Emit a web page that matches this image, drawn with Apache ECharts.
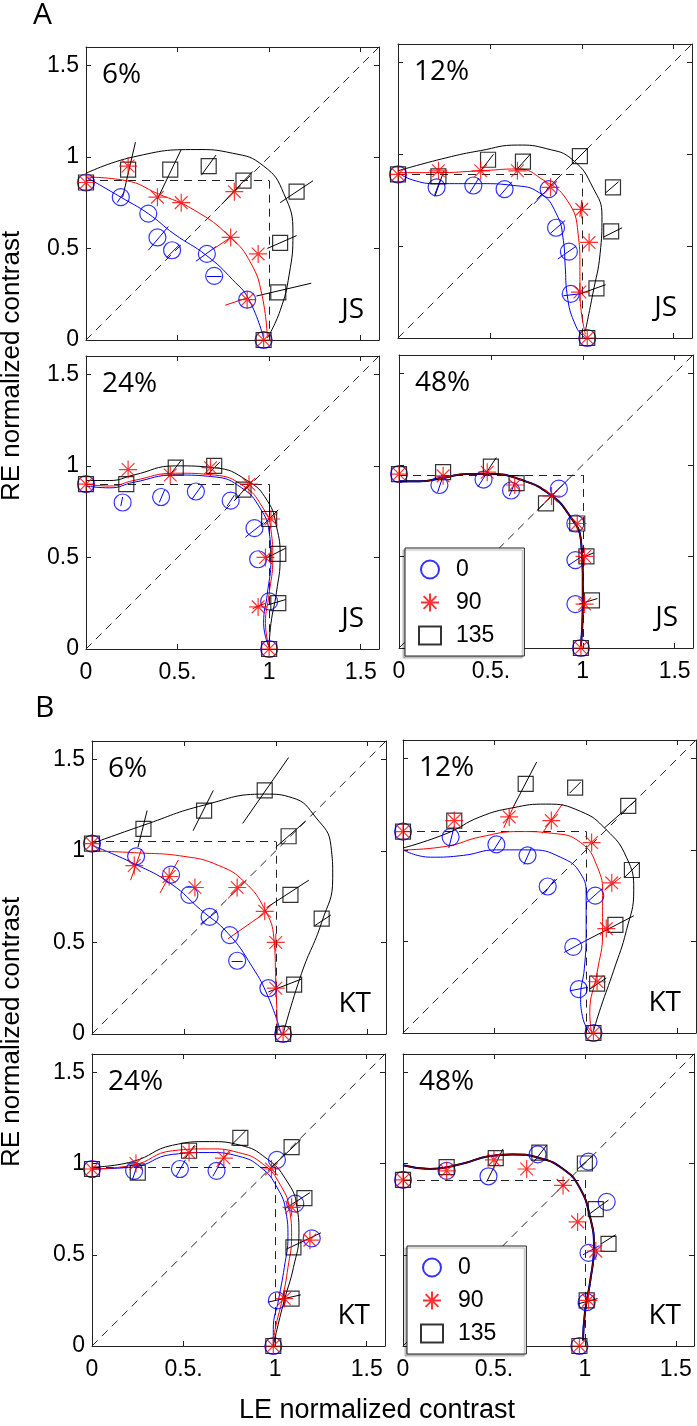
<!DOCTYPE html>
<html><head><meta charset="utf-8">
<script src="https://cdn.jsdelivr.net/npm/echarts@6/dist/echarts.min.js"></script>
<style>html,body{margin:0;padding:0;background:#fff}#c{width:697px;height:1426px}</style>
</head><body><div id="c"></div>
<script>
// ---------- tick labels ----------
const TICK_VALUES = [0, 0.5, 1, 1.5];
const X_TICK_LABELS = ['0', '0.5.', '1', '1.5'];
const Y_TICK_LABELS = ['0', '0.5', '1', '1.5'];
const PCT_LABELS = ['6%', '12%', '24%', '48%'];
const LEGEND_NAMES = ['0', '90', '135'];

// ---------- Panel A, JS, 6% ----------
const A6_circles = [[0,0.86],[0.19,0.78],[0.34,0.69],[0.39,0.56],[0.47,0.49],[0.66,0.47],[0.70,0.35],[0.88,0.22],[0.97,0.0]];
const A6_stars   = [[0,0.86],[0.23,0.95],[0.39,0.78],[0.52,0.75],[0.81,0.81],[0.79,0.56],[0.94,0.47],[0.88,0.22],[0.97,0.0]];
const A6_squares = [[0,0.86],[0.23,0.93],[0.46,0.93],[0.67,0.95],[0.86,0.87],[1.15,0.81],[1.06,0.53],[1.05,0.26],[0.97,0.0]];
const A6_fitBlue  = [[0,0.89],[0.19,0.78],[0.34,0.69],[0.48,0.58],[0.66,0.46],[0.80,0.33],[0.89,0.22],[0.97,0.01]];
const A6_fitRed   = [[0,0.89],[0.22,0.87],[0.39,0.80],[0.59,0.71],[0.79,0.56],[0.90,0.42],[0.96,0.25],[0.99,0.02]];
const A6_fitBlack = [[0,0.91],[0.26,1.00],[0.60,1.04],[0.80,1.02],[0.97,0.95],[1.08,0.80],[1.13,0.58],[1.11,0.36],[1.06,0.16],[0.99,0.01]];
const A6_segBlack = [[0.20,0.78,0.27,1.08],[0.39,0.77,0.52,1.04],[0.63,0.90,0.71,1.01],[0.74,0.74,0.91,0.92],[1.06,0.75,1.24,0.87],[0.99,0.50,1.15,0.57],[0.93,0.24,1.23,0.31]];
const A6_segBlue  = [[0.34,0.49,0.45,0.62],[0.44,0.45,0.51,0.52],[0.60,0.43,0.71,0.51],[0.66,0.35,0.74,0.35],[0.17,0.75,0.21,0.81]];
const A6_segRed   = [[0.76,0.19,0.88,0.23],[0.70,0.50,0.79,0.56]];
const A6_criterion = [0.87, 1.0];

// ---------- Panel A, JS, 12% ----------
const A12_circles = [[0,0.89],[0.21,0.82],[0.41,0.83],[0.58,0.81],[0.82,0.81],[0.86,0.60],[0.93,0.47],[0.94,0.24],[1.03,0.0]];
const A12_stars   = [[0,0.89],[0.22,0.91],[0.45,0.91],[0.65,0.91],[0.83,0.82],[1.00,0.70],[1.04,0.52],[0.99,0.25],[1.03,0.0]];
const A12_squares = [[0,0.89],[0.22,0.88],[0.49,0.97],[0.68,0.96],[0.99,0.99],[1.17,0.82],[1.16,0.58],[1.08,0.27],[1.03,0.0]];
const A12_fitBlue  = [[0,0.90],[0.08,0.86],[0.21,0.84],[0.45,0.84],[0.63,0.83],[0.77,0.79],[0.86,0.68],[0.90,0.53],[0.91,0.39],[0.92,0.24],[0.97,0.06],[1.02,0.0]];
const A12_fitRed   = [[0,0.90],[0.21,0.90],[0.45,0.91],[0.65,0.92],[0.79,0.86],[0.92,0.75],[0.98,0.57],[0.99,0.39],[0.99,0.25],[1.02,0.02]];
const A12_fitBlack = [[0,0.91],[0.26,0.98],[0.45,1.02],[0.65,1.05],[0.81,1.03],[0.95,0.97],[1.06,0.82],[1.11,0.66],[1.10,0.46],[1.06,0.24],[1.02,0.04]];
const A12_segBlack = [[0.20,0.77,0.25,0.91],[0.45,0.91,0.52,1.0],[0.64,0.91,0.72,1.0],[0.94,0.94,1.03,1.03],[1.13,0.79,1.20,0.85],[1.12,0.55,1.22,0.60],[0.99,0.24,1.13,0.29]];
const A12_segBlue  = [[0.20,0.78,0.23,0.86],[0.39,0.79,0.44,0.87],[0.55,0.77,0.62,0.85],[0.74,0.73,0.87,0.87],[0.83,0.57,0.91,0.64],[0.87,0.43,0.97,0.50],[0.90,0.23,0.99,0.24]];
const A12_segRed   = [[0.99,0.66,1.0,0.75]];
const A12_criterion = [0.89, 1.0];

// ---------- Panel A, JS, 24% ----------
const A24_circles = [[0,0.90],[0.20,0.80],[0.41,0.83],[0.60,0.86],[0.79,0.81],[0.92,0.66],[0.94,0.49],[1.00,0.26],[1.00,0.0]];
const A24_stars   = [[0,0.90],[0.23,0.98],[0.46,0.95],[0.68,0.99],[0.89,0.90],[1.01,0.71],[0.98,0.50],[0.94,0.23],[1.00,0.0]];
const A24_squares = [[0,0.90],[0.22,0.90],[0.49,0.99],[0.70,1.00],[0.86,0.87],[1.00,0.71],[1.05,0.52],[1.05,0.25],[1.00,0.0]];
const A24_fitBlue  = [[0,0.89],[0.13,0.88],[0.26,0.91],[0.49,0.95],[0.70,0.94],[0.85,0.88],[0.95,0.77],[1.0,0.64],[1.01,0.49],[0.99,0.30],[0.97,0.14],[1.0,0.01]];
const A24_fitRed   = [[0,0.90],[0.13,0.89],[0.26,0.92],[0.49,0.96],[0.70,0.95],[0.86,0.89],[0.96,0.78],[1.01,0.65],[1.02,0.49],[1.0,0.30],[0.98,0.14],[1.0,0.01]];
const A24_fitBlack = [[0,0.92],[0.13,0.92],[0.26,0.95],[0.49,1.0],[0.70,0.99],[0.88,0.92],[0.99,0.81],[1.04,0.67],[1.06,0.50],[1.04,0.31],[1.01,0.14],[1.0,0.01]];
const A24_segBlack = [[0.45,0.94,0.52,1.03],[0.67,0.96,0.73,1.02],[0.81,0.81,0.91,0.92],[0.97,0.68,1.05,0.76],[0.99,0.50,1.09,0.55],[0.99,0.24,1.09,0.27],[1.0,0.73,1.0,0.85]];
const A24_segBlue  = [[0.19,0.78,0.20,0.83],[0.40,0.80,0.43,0.87],[0.58,0.82,0.63,0.89],[0.77,0.78,0.81,0.84],[0.87,0.61,0.97,0.69]];
const A24_segRed   = [[0.91,0.22,0.98,0.25]];
const A24_criterion = [0.90, 1.0];

// ---------- Panel A, JS, 48% ----------
const A48_circles = [[0,0.95],[0.22,0.89],[0.46,0.92],[0.61,0.86],[0.87,0.87],[0.96,0.68],[0.96,0.48],[0.96,0.24],[0.99,0.0]];
const A48_stars   = [[0,0.95],[0.24,0.94],[0.48,0.96],[0.63,0.89],[0.83,0.83],[0.97,0.68],[1.01,0.50],[1.01,0.24],[0.99,0.0]];
const A48_squares = [[0,0.95],[0.24,0.96],[0.50,0.99],[0.64,0.90],[0.80,0.79],[0.97,0.68],[1.02,0.50],[1.05,0.26],[0.99,0.0]];
const A48_fitBlue  = [[0,0.91],[0.11,0.91],[0.24,0.93],[0.37,0.95],[0.50,0.95],[0.66,0.92],[0.82,0.84],[0.93,0.72],[0.99,0.59],[1.0,0.41],[1.0,0.22],[0.99,0.01]];
const A48_fitRed   = [[0,0.91],[0.11,0.91],[0.24,0.93],[0.37,0.95],[0.50,0.95],[0.66,0.92],[0.82,0.84],[0.93,0.72],[0.99,0.59],[1.0,0.41],[1.0,0.22],[0.99,0.01]];
const A48_fitBlack = [[0,0.91],[0.11,0.91],[0.24,0.93],[0.37,0.95],[0.50,0.95],[0.66,0.92],[0.82,0.84],[0.93,0.72],[0.99,0.59],[1.0,0.41],[1.0,0.22],[0.99,0.01]];
const A48_segBlack = [[0.47,0.95,0.53,1.04],[0.75,0.75,0.86,0.86],[0.98,0.24,1.08,0.27],[0.99,0.49,1.06,0.52]];
const A48_segBlue  = [[0.21,0.85,0.24,0.94],[0.43,0.88,0.48,0.96],[0.60,0.83,0.63,0.90],[0.84,0.84,0.92,0.92],[0.92,0.45,1.01,0.51]];
const A48_segRed   = [];
const A48_criterion = [0.945, 1.0];

// ---------- Panel B, KT, 6% ----------
const B6_circles = [[0,1.04],[0.24,0.97],[0.43,0.87],[0.53,0.76],[0.64,0.64],[0.75,0.54],[0.79,0.40],[0.96,0.25],[1.04,0.0]];
const B6_stars   = [[0,1.04],[0.23,0.92],[0.42,0.86],[0.56,0.80],[0.79,0.80],[0.94,0.67],[1.00,0.50],[1.00,0.25],[1.04,0.0]];
const B6_squares = [[0,1.04],[0.28,1.12],[0.61,1.22],[0.94,1.33],[1.07,1.08],[1.08,0.76],[1.25,0.63],[1.10,0.27],[1.04,0.0]];
const B6_fitBlue  = [[0,1.03],[0.23,0.93],[0.43,0.82],[0.59,0.68],[0.74,0.55],[0.87,0.37],[0.96,0.20],[1.03,0.0]];
const B6_fitRed   = [[0,1.0],[0.23,0.99],[0.50,0.97],[0.69,0.92],[0.83,0.83],[0.94,0.68],[0.99,0.52],[1.0,0.30],[1.01,0.0]];
const B6_fitBlack = [[0,1.04],[0.28,1.14],[0.61,1.25],[0.94,1.31],[1.09,1.29],[1.22,1.18],[1.30,1.03],[1.31,0.85],[1.25,0.61],[1.14,0.33],[1.04,0.0]];
const B6_segBlack = [[0.25,1.02,0.30,1.22],[0.55,1.11,0.66,1.33],[0.82,1.15,1.07,1.51],[1.00,1.02,1.16,1.16],[0.95,0.69,1.18,0.84],[1.21,0.59,1.30,0.65],[0.96,0.23,1.14,0.30]];
const B6_segBlue  = [[0.59,0.60,0.68,0.67],[0.76,0.40,0.82,0.40]];
const B6_segRed   = [[0.21,0.84,0.27,1.01],[0.37,0.77,0.47,0.95],[0.74,0.74,0.84,0.84],[0.74,0.52,0.94,0.66]];
const B6_criterion = [1.05, 1.0];

// ---------- Panel B, KT, 12% ----------
const B12_circles = [[0,1.10],[0.26,1.07],[0.51,1.03],[0.68,0.97],[0.79,0.80],[1.05,0.75],[0.93,0.47],[0.96,0.24],[1.04,0.0]];
const B12_stars   = [[0,1.10],[0.28,1.16],[0.58,1.18],[0.81,1.16],[1.03,1.04],[1.14,0.82],[1.11,0.57],[1.06,0.28],[1.04,0.0]];
const B12_squares = [[0,1.10],[0.28,1.16],[0.67,1.36],[0.94,1.34],[1.23,1.24],[1.25,0.89],[1.16,0.59],[1.06,0.27],[1.04,0.0]];
const B12_fitBlue  = [[0,1.0],[0.15,0.96],[0.33,0.97],[0.51,1.0],[0.69,1.0],[0.86,0.96],[0.97,0.87],[1.0,0.75],[1.0,0.55],[0.99,0.35],[0.97,0.20],[0.98,0.09],[1.02,0.0]];
const B12_fitRed   = [[0,1.0],[0.24,1.02],[0.42,1.07],[0.64,1.10],[0.82,1.09],[0.97,1.04],[1.06,0.91],[1.09,0.75],[1.09,0.55],[1.06,0.33],[1.02,0.11],[1.03,0.0]];
const B12_fitBlack = [[0,1.01],[0.24,1.09],[0.42,1.18],[0.60,1.23],[0.78,1.25],[0.97,1.21],[1.11,1.11],[1.22,0.96],[1.26,0.78],[1.22,0.56],[1.15,0.34],[1.08,0.14],[1.04,0.01]];
const B12_segBlack = [[0.60,1.23,0.73,1.48],[0.91,1.31,0.97,1.37],[1.10,1.12,1.27,1.27],[1.21,0.85,1.29,0.93],[0.99,0.50,1.26,0.64],[1.02,0.24,1.11,0.30]];
const B12_segBlue  = [[0.25,1.01,0.28,1.13],[0.49,0.99,0.54,1.07],[0.66,0.92,0.70,1.01],[0.77,0.76,0.83,0.84],[1.00,0.71,1.09,0.79],[0.88,0.44,0.99,0.50],[0.91,0.23,1.01,0.25]];
const B12_segRed   = [[0.76,1.09,0.87,1.25],[1.10,0.78,1.19,0.85],[0.55,1.12,0.61,1.25]];
const B12_criterion = [1.10, 1.0];

// ---------- Panel B, KT, 24% ----------
const B24_circles = [[0,0.97],[0.23,0.96],[0.48,0.97],[0.68,0.96],[1.01,1.02],[1.11,0.78],[1.20,0.59],[1.01,0.25],[0.99,0.0]];
const B24_stars   = [[0,0.97],[0.24,1.0],[0.53,1.06],[0.72,1.03],[0.98,0.97],[1.09,0.76],[1.19,0.58],[1.05,0.26],[0.99,0.0]];
const B24_squares = [[0,0.97],[0.25,0.95],[0.53,1.07],[0.81,1.14],[1.09,1.09],[1.16,0.81],[1.10,0.54],[1.09,0.26],[0.99,0.0]];
const B24_fitBlue  = [[0,0.97],[0.22,0.98],[0.44,1.05],[0.64,1.06],[0.80,1.04],[0.92,0.98],[1.01,0.87],[1.06,0.73],[1.07,0.60],[1.05,0.43],[1.02,0.26],[0.99,0.09],[0.99,0.0]];
const B24_fitRed   = [[0,0.97],[0.22,0.99],[0.44,1.07],[0.64,1.08],[0.80,1.06],[0.93,1.0],[1.03,0.88],[1.08,0.74],[1.09,0.60],[1.07,0.43],[1.04,0.26],[1.0,0.09],[0.99,0.0]];
const B24_fitBlack = [[0,0.98],[0.22,1.01],[0.44,1.10],[0.64,1.12],[0.81,1.10],[0.95,1.03],[1.06,0.91],[1.12,0.76],[1.13,0.62],[1.10,0.43],[1.05,0.25],[1.01,0.09],[0.99,0.0]];
const B24_segBlack = [[0.76,1.10,0.84,1.18],[0.96,0.96,1.14,1.13],[1.05,0.75,1.19,0.84],[1.06,0.53,1.25,0.62],[0.96,0.24,1.14,0.28],[0.51,1.03,0.56,1.10]];
const B24_segBlue  = [[0.46,0.93,0.51,1.02],[0.66,0.93,0.71,1.02],[0.22,0.91,0.25,1.00]];
const B24_segRed   = [[0.68,0.98,0.75,1.07]];
const B24_criterion = [0.98, 1.0];

// ---------- Panel B, KT, 48% ----------
const B48_circles = [[0,0.91],[0.24,0.96],[0.47,0.93],[0.74,1.05],[1.02,1.01],[1.12,0.79],[1.02,0.51],[1.01,0.24],[0.97,0.0]];
const B48_stars   = [[0,0.91],[0.24,0.96],[0.50,1.02],[0.68,0.97],[0.88,0.88],[0.96,0.68],[1.06,0.52],[1.02,0.25],[0.97,0.0]];
const B48_squares = [[0,0.91],[0.24,0.98],[0.51,1.03],[0.75,1.06],[1.0,1.0],[1.06,0.75],[1.13,0.56],[1.01,0.25],[0.97,0.0]];
const B48_fitBlue  = [[0,0.99],[0.15,0.97],[0.33,1.0],[0.47,1.04],[0.60,1.05],[0.75,1.03],[0.88,0.97],[0.97,0.87],[1.03,0.70],[1.05,0.54],[1.03,0.36],[1.0,0.18],[0.99,0.03]];
const B48_fitRed   = [[0,0.99],[0.15,0.97],[0.33,1.0],[0.47,1.04],[0.60,1.05],[0.75,1.03],[0.88,0.97],[0.97,0.87],[1.03,0.70],[1.05,0.54],[1.03,0.36],[1.0,0.18],[0.99,0.03]];
const B48_fitBlack = [[0,0.99],[0.15,0.97],[0.33,1.0],[0.47,1.04],[0.60,1.05],[0.75,1.03],[0.88,0.97],[0.97,0.87],[1.03,0.70],[1.05,0.54],[1.03,0.36],[1.0,0.18],[0.99,0.03]];
const B48_segBlack = [[0.46,0.90,0.55,1.08],[0.72,1.01,0.79,1.10],[0.96,0.97,1.04,1.04],[1.02,0.72,1.13,0.80],[1.09,0.56,1.17,0.61],[0.96,0.23,1.07,0.26]];
const B48_segBlue  = [[0.99,0.50,1.08,0.55]];
const B48_segRed   = [];
const B48_criterion = [0.91, 1.0];

// ---------- assembly ----------
const PANEL_DATA = [
  {c:A6_circles,s:A6_stars,q:A6_squares,fb:A6_fitBlue,fr:A6_fitRed,fk:A6_fitBlack,sk:A6_segBlack,sb:A6_segBlue,sr:A6_segRed,cr:A6_criterion},
  {c:A12_circles,s:A12_stars,q:A12_squares,fb:A12_fitBlue,fr:A12_fitRed,fk:A12_fitBlack,sk:A12_segBlack,sb:A12_segBlue,sr:A12_segRed,cr:A12_criterion},
  {c:A24_circles,s:A24_stars,q:A24_squares,fb:A24_fitBlue,fr:A24_fitRed,fk:A24_fitBlack,sk:A24_segBlack,sb:A24_segBlue,sr:A24_segRed,cr:A24_criterion},
  {c:A48_circles,s:A48_stars,q:A48_squares,fb:A48_fitBlue,fr:A48_fitRed,fk:A48_fitBlack,sk:A48_segBlack,sb:A48_segBlue,sr:A48_segRed,cr:A48_criterion},
  {c:B6_circles,s:B6_stars,q:B6_squares,fb:B6_fitBlue,fr:B6_fitRed,fk:B6_fitBlack,sk:B6_segBlack,sb:B6_segBlue,sr:B6_segRed,cr:B6_criterion},
  {c:B12_circles,s:B12_stars,q:B12_squares,fb:B12_fitBlue,fr:B12_fitRed,fk:B12_fitBlack,sk:B12_segBlack,sb:B12_segBlue,sr:B12_segRed,cr:B12_criterion},
  {c:B24_circles,s:B24_stars,q:B24_squares,fb:B24_fitBlue,fr:B24_fitRed,fk:B24_fitBlack,sk:B24_segBlack,sb:B24_segBlue,sr:B24_segRed,cr:B24_criterion},
  {c:B48_circles,s:B48_stars,q:B48_squares,fb:B48_fitBlue,fr:B48_fitRed,fk:B48_fitBlack,sk:B48_segBlack,sb:B48_segBlue,sr:B48_segRed,cr:B48_criterion}
];

// layout (pixels)
const LAYOUT = [
  {left:86, top:47, w:293, h:293, xl:false, yl:true, pct:0, subj:'JS'},
  {left:398, top:44, w:294, h:294, xl:false, yl:false, pct:1, subj:'JS'},
  {left:86, top:356, w:293, h:293, xl:true, yl:true, pct:2, subj:'JS'},
  {left:399, top:355, w:294, h:293, xl:true, yl:false, pct:3, subj:'JS'},
  {left:92, top:741, w:294, h:293, xl:false, yl:true, pct:0, subj:'KT'},
  {left:403, top:740, w:293, h:293, xl:false, yl:false, pct:1, subj:'KT'},
  {left:92, top:1054, w:293, h:292, xl:true, yl:true, pct:2, subj:'KT'},
  {left:403, top:1054, w:293, h:292, xl:true, yl:false, pct:3, subj:'KT'}
];

const AX_MAX = 1.6;
const BLUE = '#0000ff', RED = '#ff0000', BLACK = '#000000';
const STAR = 'path://M10,0L10,20M0,10L20,10M2.93,2.93L17.07,17.07M2.93,17.07L17.07,2.93';
const TICK_FONT = {fontSize: 23, fontFamily: 'Liberation Sans, Arial, sans-serif', color: '#000'};

function tickLabel(list) {
  return function (v) {
    const r = Math.round(v * 10) / 10;
    const i = TICK_VALUES.indexOf(r);
    return i >= 0 ? list[i] : '';
  };
}

const grids = [], xAxes = [], yAxes = [], series = [], graphics = [];
const axLine = {show: true, onZero: false, lineStyle: {color: '#222', width: 1}};
const axTick = {show: true, inside: true, length: 5, lineStyle: {color: '#222', width: 1}};

LAYOUT.forEach((L, i) => {
  grids.push({left: L.left, top: L.top, width: L.w, height: L.h, show: false});
  const base = {type: 'value', min: 0, max: AX_MAX, interval: 0.5, gridIndex: i, splitLine: {show: false}, axisLine: axLine, axisTick: axTick};
  xAxes.push(Object.assign({}, base, {position: 'bottom', axisLabel: Object.assign({show: L.xl, margin: 12, formatter: tickLabel(X_TICK_LABELS)}, TICK_FONT)}));
  xAxes.push(Object.assign({}, base, {position: 'top', axisLabel: {show: false}}));
  yAxes.push(Object.assign({}, base, {position: 'left', axisLabel: Object.assign({show: L.yl, margin: 7, formatter: tickLabel(Y_TICK_LABELS)}, TICK_FONT)}));
  yAxes.push(Object.assign({}, base, {position: 'right', axisLabel: {show: false}}));

  const D = PANEL_DATA[i];
  const ax = {xAxisIndex: 2 * i, yAxisIndex: 2 * i};
  // dashed guides: identity diagonal and the monocular criterion lines
  series.push(Object.assign({type: 'lines', coordinateSystem: 'cartesian2d', silent: true, z: 1,
    lineStyle: {color: '#222', width: 1, type: [8, 6], opacity: 1, curveness: 0},
    data: [
      {coords: [[0, 0], [AX_MAX, AX_MAX]]},
      {coords: [[0, D.cr[0]], [D.cr[1], D.cr[0]]]},
      {coords: [[D.cr[1], D.cr[0]], [D.cr[1], 0]]}
    ]}, ax));
  // orientation segments
  [[D.sk, BLACK], [D.sb, BLUE], [D.sr, RED]].forEach(([segs, col]) => {
    if (!segs.length) return;
    series.push(Object.assign({type: 'lines', coordinateSystem: 'cartesian2d', silent: true, z: 2,
      lineStyle: {color: col, width: 1, opacity: 1, curveness: 0},
      data: segs.map(s => ({coords: [[s[0], s[1]], [s[2], s[3]]]}))}, ax));
  });
  // fitted curves
  const fits = (i === 3 || i === 7)
    ? [[D.fb, BLUE, 2], [D.fk, BLACK, 1.6], [D.fr, 'rgba(200,0,0,0.7)', 1]]
    : [[D.fb, BLUE, 1], [D.fr, RED, 1], [D.fk, BLACK, 1]];
  fits.forEach(([pts, col, w]) => {
    series.push(Object.assign({type: 'line', data: pts, smooth: 0.5, symbol: 'none', silent: true, z: 3, clip: false,
      lineStyle: {color: col, width: w}}, ax));
  });
  // markers
  series.push(Object.assign({name: LEGEND_NAMES[0], type: 'scatter', data: D.c, symbol: 'circle', symbolSize: 17, z: 4, clip: false,
    itemStyle: {color: 'rgba(0,0,0,0)', borderColor: BLUE, borderWidth: 1.2}}, ax));
  series.push(Object.assign({name: LEGEND_NAMES[1], type: 'scatter', data: D.s, symbol: STAR, symbolSize: 18, z: 5, clip: false,
    itemStyle: {color: 'rgba(0,0,0,0)', borderColor: RED, borderWidth: 1.2}}, ax));
  series.push(Object.assign({name: LEGEND_NAMES[2], type: 'scatter', data: D.q, symbol: 'rect', symbolSize: 15, z: 4, clip: false,
    itemStyle: {color: 'rgba(0,0,0,0)', borderColor: BLACK, borderWidth: 1.2}}, ax));

  // panel texts
  graphics.push({type: 'text', left: L.left + 16, top: L.top + 14, z: 10,
    style: {text: PCT_LABELS[L.pct], font: '28px "Open Sans", sans-serif', fill: '#000'}});
  graphics.push({type: 'text', right: 697 - (L.left + L.w) + 15, top: L.top + L.h - 44, z: 10,
    style: {text: L.subj, font: '28px "Open Sans", sans-serif', fill: '#000'}});
});

graphics.push({type: 'text', left: 33, top: 0, style: {text: 'A', font: '30px "Open Sans", sans-serif', fill: '#000'}});
graphics.push({type: 'text', left: 35, top: 693, style: {text: 'B', font: '30px "Open Sans", sans-serif', fill: '#000'}});
graphics.push({type: 'text', x: 12, y: 366, rotation: Math.PI / 2,
  style: {text: 'RE normalized contrast', font: '26px "Liberation Sans", Arial, sans-serif', fill: '#000', textAlign: 'center', textVerticalAlign: 'middle'}});
graphics.push({type: 'text', x: 12, y: 1032, rotation: Math.PI / 2,
  style: {text: 'RE normalized contrast', font: '26px "Liberation Sans", Arial, sans-serif', fill: '#000', textAlign: 'center', textVerticalAlign: 'middle'}});
graphics.push({type: 'text', x: 377, y: 1411,
  style: {text: 'LE normalized contrast', font: '27px "Liberation Sans", Arial, sans-serif', fill: '#000', textAlign: 'center', textVerticalAlign: 'middle'}});

const legendBase = {
  orient: 'vertical', selectedMode: false, data: LEGEND_NAMES,
  itemWidth: 22, itemHeight: 18, itemGap: 10, padding: [10, 30, 9, 13],
  textStyle: {fontSize: 23, fontFamily: 'Liberation Sans, Arial, sans-serif', color: '#000', padding: [0, 0, 0, 10]},
  backgroundColor: '#fff', borderColor: '#222', borderWidth: 1,
  shadowColor: 'rgba(0,0,0,0.3)', shadowOffsetX: -2, shadowOffsetY: 2, shadowBlur: 1, z: 20
};

const chart = echarts.init(document.getElementById('c'), null, {renderer: 'canvas'});
chart.setOption({
  animation: false,
  backgroundColor: '#fff',
  grid: grids,
  xAxis: xAxes,
  yAxis: yAxes,
  legend: [
    Object.assign({left: 405, top: 548}, legendBase),
    Object.assign({left: 407, top: 1246}, legendBase)
  ],
  series: series,
  graphic: graphics
});
</script>
</body></html>
